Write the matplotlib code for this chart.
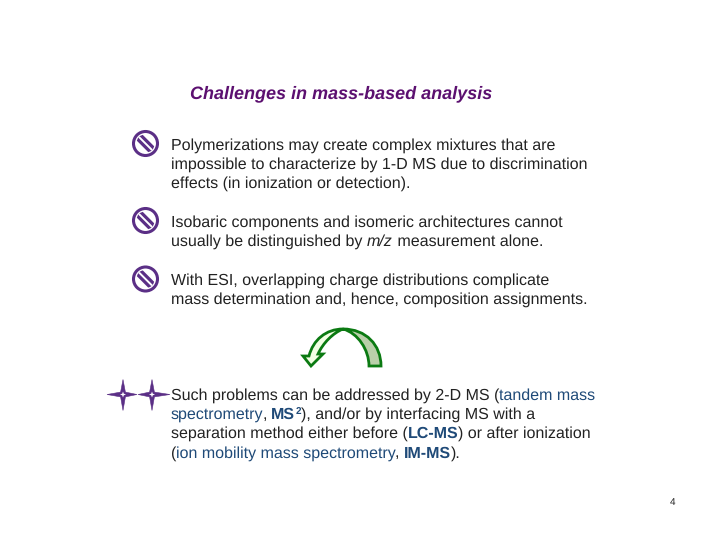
import matplotlib
matplotlib.use('Agg')
from matplotlib import pyplot as plt
from matplotlib.patches import Circle, PathPatch, Polygon
from matplotlib.path import Path

plt.rcParams['font.family'] = ['Liberation Sans', 'DejaVu Sans']
plt.rcParams['text.hinting'] = 'no_hinting'
plt.rcParams['text.hinting_factor'] = 1

PURPLE = '#5b2f86'
BLUE = '#1f4a78'
TEXT = '#222222'
GREEN = '#0b7a12'

title = 'Challenges in mass-based analysis'
# each line is a list of (text, color, weight, style)
para1 = ['Polymerizations may create complex mixtures that are',
         'impossible to characterize by 1-D MS due to discrimination',
         'effects (in ionization or detection).']
para2 = [[('Isobaric components and isomeric architectures cannot', TEXT, 'normal', 'normal')],
         [('usually be distinguished by ', TEXT, 'normal', 'normal'),
          ('m/z', TEXT, 'normal', 'italic'),
          (' measurement alone.', TEXT, 'normal', 'normal')]]
para3 = ['With ESI, overlapping charge distributions complicate',
         'mass determination and, hence, composition assignments.']
para4 = [[('Such problems can be addressed by 2-D MS (', TEXT, 'normal', 'normal'),
          ('tandem mass', BLUE, 'normal', 'normal')],
         [('spectrometry', BLUE, 'normal', 'normal'),
          (', ', TEXT, 'normal', 'normal'),
          ('MS', BLUE, 'bold', 'normal'),
          ('SUP2', BLUE, 'bold', 'normal'),
          ('), and/or by interfacing MS with a', TEXT, 'normal', 'normal')],
         [('separation method either before (', TEXT, 'normal', 'normal'),
          ('LC-MS', BLUE, 'bold', 'normal'),
          (') or after ionization', TEXT, 'normal', 'normal')],
         [('(', TEXT, 'normal', 'normal'),
          ('ion mobility mass spectrometry', BLUE, 'normal', 'normal'),
          (', ', TEXT, 'normal', 'normal'),
          ('IM-MS', BLUE, 'bold', 'normal'),
          (').', TEXT, 'normal', 'normal')]]
page_number = '4'

FS = 11.55

fig = plt.figure(figsize=(7.2, 5.4), dpi=100)
ax = fig.add_axes([0, 0, 1, 1])
ax.set_xlim(0, 720)
ax.set_ylim(540, 0)
ax.axis('off')


def draw_line(x, y, segments):
    renderer = fig.canvas.get_renderer()
    for txt, color, weight, style in segments:
        size = FS
        dy = 0
        if txt.startswith('SUP'):
            txt = txt[3:]
            size = FS * 0.62
            dy = 5
        ax.text(x, y - dy, txt, color=color, fontweight=weight, fontstyle=style, fontsize=size, va='baseline')
        # spaces at the end do not count in the extent, so measure with a dot
        probe = ax.text(x, y, txt + '.', fontweight=weight, fontstyle=style, fontsize=size)
        dot = ax.text(x, y, '.', fontweight=weight, fontstyle=style, fontsize=size)
        w = probe.get_window_extent(renderer).width - dot.get_window_extent(renderer).width
        probe.remove()
        dot.remove()
        x += w


def no_icon(cx, cy):
    ax.add_patch(Circle((cx, cy), 12, fc='white', ec=PURPLE, lw=2.2))
    clip = Circle((cx, cy), 9.2, transform=ax.transData)
    for col, lw in [(PURPLE, 6.0), ('white', 1.4)]:
        ln, = ax.plot([cx - 12, cx + 12], [cy - 12, cy + 12], color=col, lw=lw, solid_capstyle='butt')
        ln.set_clip_path(clip)


def star(cx, cy, rx_l, rx_r, ry_t, ry_b):
    w = 2.4
    pts = [(cx, cy - ry_t), (cx + w, cy - w), (cx + rx_r, cy), (cx + w, cy + w),
           (cx, cy + ry_b), (cx - w, cy + w), (cx - rx_l, cy), (cx - w, cy - w)]
    ax.add_patch(Polygon(pts, closed=True, fc=PURPLE, ec=PURPLE, lw=0.4))
    ax.add_patch(Polygon([(cx, cy - 3), (cx + 0.8, cy - 0.8), (cx + 3, cy), (cx + 0.8, cy + 0.8),
                          (cx, cy + 3), (cx - 0.8, cy + 0.8), (cx - 3, cy), (cx - 0.8, cy - 0.8)],
                         closed=True, fc='white', ec='none'))


ax.text(190, 98, title, color='#5c1070', fontweight='bold', fontstyle='italic', fontsize=12.9, va='baseline')

for i, line in enumerate(para1):
    ax.text(171, 149.5 + i * 19.3, line, color=TEXT, fontsize=FS, va='baseline')
for i, segs in enumerate(para2):
    draw_line(171, 226.5 + i * 19, segs)
for i, line in enumerate(para3):
    ax.text(171, 284.5 + i * 19, line, color=TEXT, fontsize=FS, va='baseline')
for i, segs in enumerate(para4):
    draw_line(171, 399.5 + i * 19.3, segs)

no_icon(145.5, 143.5)
no_icon(145.5, 220.5)
no_icon(145.5, 279)

# arrow: grey right half, pale left half
right_half = Path([(381, 366), (381, 345), (366, 329), (343, 329), (358, 333), (369, 350), (369, 366), (381, 366)],
                  [Path.MOVETO, Path.CURVE4, Path.CURVE4, Path.CURVE4, Path.CURVE4, Path.CURVE4, Path.CURVE4, Path.CLOSEPOLY])
left_half = Path([(343, 329), (326, 329), (313, 340), (309, 356), (303, 356), (311, 366), (323, 354), (318, 354),
                  (323, 343), (333, 333), (343, 329)],
                 [Path.MOVETO, Path.CURVE4, Path.CURVE4, Path.CURVE4, Path.LINETO, Path.LINETO, Path.LINETO, Path.LINETO,
                  Path.CURVE4, Path.CURVE4, Path.CURVE4])
ax.add_patch(PathPatch(right_half, fc='#b9cfa9', ec=GREEN, lw=2))
ax.add_patch(PathPatch(left_half, fc='#f2ffe3', ec=GREEN, lw=2, joinstyle='miter'))

star(123, 394.5, 16, 14, 15, 16)
star(152, 394.5, 14, 18, 15, 16)

ax.text(673, 505, page_number, color=TEXT, fontsize=7.5, ha='center', va='baseline')

fig.savefig('out.png', dpi=100)
